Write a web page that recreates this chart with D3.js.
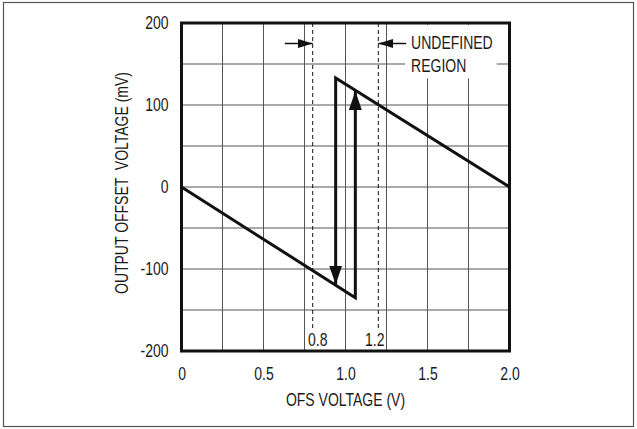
<!DOCTYPE html>
<html lang="en">
<head>
<meta charset="UTF-8">
<title>Output Offset Voltage vs OFS Voltage</title>
<script src="https://d3js.org/d3.v7.min.js"></script>
<style>
  body { margin: 0; background: #fff; }
  text {
    font-family: "Liberation Sans Narrow", "Arial Narrow", "Liberation Sans", Arial, sans-serif;
    font-size: 17.5px;
    fill: #1a1a1a;
  }
  /* no narrow face installed, so squeeze the regular one */
  .cond { transform-box: fill-box; transform: scaleX(0.8); transform-origin: center; }
  .cond-end { transform-origin: right center; }
  .cond-start { transform-origin: left center; }
</style>
</head>
<body>
<svg id="chart" width="637" height="429"></svg>
<script>
const condense = 0.8;

// axis ticks
const xTicks = [0, 0.5, 1.0, 1.5, 2.0];
const xTickLabels = ["0", "0.5", "1.0", "1.5", "2.0"];
const yTicks = [-200, -100, 0, 100, 200];
const yTickLabels = ["-200", "-100", "0", "100", "200"];
const xGrid = [0.25, 0.5, 0.75, 1.0, 1.25, 1.5, 1.75];
const yGrid = [-150, -100, -50, 0, 50, 100, 150];

// hysteresis loop (V, mV)
const risingSweep = [[0, 0], [1.06, -135], [1.06, 117]];
const fallingSweep = [[2.0, 0], [0.94, 133], [0.94, -119]];

// undefined region markers
const thresholds = [0.8, 1.2];
const thresholdLabels = ["0.8", "1.2"];
const regionArrows = [[0.63, 0.8], [1.37, 1.2]];
const regionArrowLevel = 175;
const regionText = ["UNDEFINED", "REGION"];

const svg = d3.select("#chart");
const width = +svg.attr("width");
const height = +svg.attr("height");

svg.append("rect").attr("width", width).attr("height", height).attr("fill", "#fff");
svg.append("rect")
    .attr("x", 3.5).attr("y", 2.5)
    .attr("width", width - 7).attr("height", height - 5)
    .attr("fill", "none").attr("stroke", "#555").attr("stroke-width", 1.2);

const x = d3.scaleLinear().domain([0, 2]).range([181.5, 509.5]);
const y = d3.scaleLinear().domain([-200, 200]).range([351, 23]);

const defs = svg.append("defs");
function marker(id, len, half) {
    defs.append("marker")
        .attr("id", id)
        .attr("viewBox", `0 ${-half} ${len} ${half * 2}`)
        .attr("refX", len).attr("refY", 0)
        .attr("markerWidth", len).attr("markerHeight", half * 2)
        .attr("markerUnits", "userSpaceOnUse")
        .attr("orient", "auto")
        .append("path")
        .attr("d", `M0,${-half}L${len},0L0,${half}Z`)
        .attr("fill", "#111");
}
marker("bigArrow", 19, 6.5);
marker("smallArrow", 15, 4.5);

// grid
const grid = svg.append("g").attr("stroke", "#555").attr("stroke-width", 1);
grid.selectAll(".vgrid").data(xGrid).enter().append("line")
    .attr("x1", d => x(d)).attr("x2", d => x(d))
    .attr("y1", y(200)).attr("y2", y(-200));
grid.selectAll(".hgrid").data(yGrid).enter().append("line")
    .attr("x1", x(0)).attr("x2", x(2))
    .attr("y1", d => y(d)).attr("y2", d => y(d));

// annotation text with white box behind it
const noteGroup = svg.append("g");
const note = noteGroup.append("text")
    .attr("class", "cond cond-start")
    .attr("x", x(1.4))
    .attr("y", y(regionArrowLevel) + 6);
note.selectAll("tspan").data(regionText).enter().append("tspan")
    .attr("x", x(1.4))
    .attr("dy", (d, i) => i === 0 ? 0 : 22.5)
    .text(d => d);
const bb = note.node().getBBox();
noteGroup.insert("rect", "text")
    .attr("x", bb.x - 6)
    .attr("y", y(200) + 2)
    .attr("width", bb.width * condense + 10)
    .attr("height", bb.y + bb.height + 3 - (y(200) + 2))
    .attr("fill", "#fff");

// dashed threshold lines
svg.selectAll(".thresh").data(thresholds).enter().append("line")
    .attr("x1", d => x(d)).attr("x2", d => x(d))
    .attr("y1", y(200)).attr("y2", y(-174))
    .attr("stroke", "#111").attr("stroke-width", 1)
    .attr("stroke-dasharray", "4,3");

svg.selectAll(".thresh-label").data(thresholds).enter().append("text")
    .attr("class", "cond")
    .attr("x", (d, i) => x(d) + (i === 0 ? 5 : -3.5))
    .attr("y", 346.5)
    .attr("text-anchor", "middle")
    .text((d, i) => thresholdLabels[i]);

svg.selectAll(".region-arrow").data(regionArrows).enter().append("line")
    .attr("x1", d => x(d[0])).attr("x2", d => x(d[1]))
    .attr("y1", y(regionArrowLevel)).attr("y2", y(regionArrowLevel))
    .attr("stroke", "#111").attr("stroke-width", 1.5)
    .attr("marker-end", "url(#smallArrow)");

// the loop
const line = d3.line().x(d => x(d[0])).y(d => y(d[1]));
svg.selectAll(".sweep").data([risingSweep, fallingSweep]).enter().append("path")
    .attr("d", line)
    .attr("fill", "none")
    .attr("stroke", "#111")
    .attr("stroke-width", 3)
    .attr("stroke-linejoin", "miter")
    .attr("marker-end", "url(#bigArrow)");

// frame
svg.append("rect")
    .attr("x", x(0)).attr("y", y(200))
    .attr("width", x(2) - x(0)).attr("height", y(-200) - y(200))
    .attr("fill", "none").attr("stroke", "#111").attr("stroke-width", 3);

// axes
svg.append("g")
    .attr("transform", `translate(0,${y(-200)})`)
    .style("color", "#1a1a1a")
    .call(d3.axisBottom(x).tickValues(xTicks).tickFormat((d, i) => xTickLabels[i]).tickSize(0).tickPadding(17))
    .call(g => g.select(".domain").remove())
    .selectAll("text").attr("class", "cond");

svg.append("g")
    .attr("transform", `translate(${x(0)},0)`)
    .style("color", "#1a1a1a")
    .call(d3.axisLeft(y).tickValues(yTicks).tickFormat((d, i) => yTickLabels[i]).tickSize(0).tickPadding(13))
    .call(g => g.select(".domain").remove())
    .selectAll("text").attr("class", "cond cond-end");

svg.append("text")
    .attr("class", "cond")
    .attr("x", (x(0) + x(2)) / 2)
    .attr("y", 406)
    .attr("text-anchor", "middle")
    .text("OFS VOLTAGE (V)");

svg.append("g")
    .attr("transform", `translate(128,${(y(200) + y(-200)) / 2 - 4}) rotate(-90)`)
    .append("text")
    .attr("class", "cond")
    .attr("text-anchor", "middle")
    .style("white-space", "pre")
    .text("OUTPUT OFFSET  VOLTAGE (mV)");
</script>
</body>
</html>
